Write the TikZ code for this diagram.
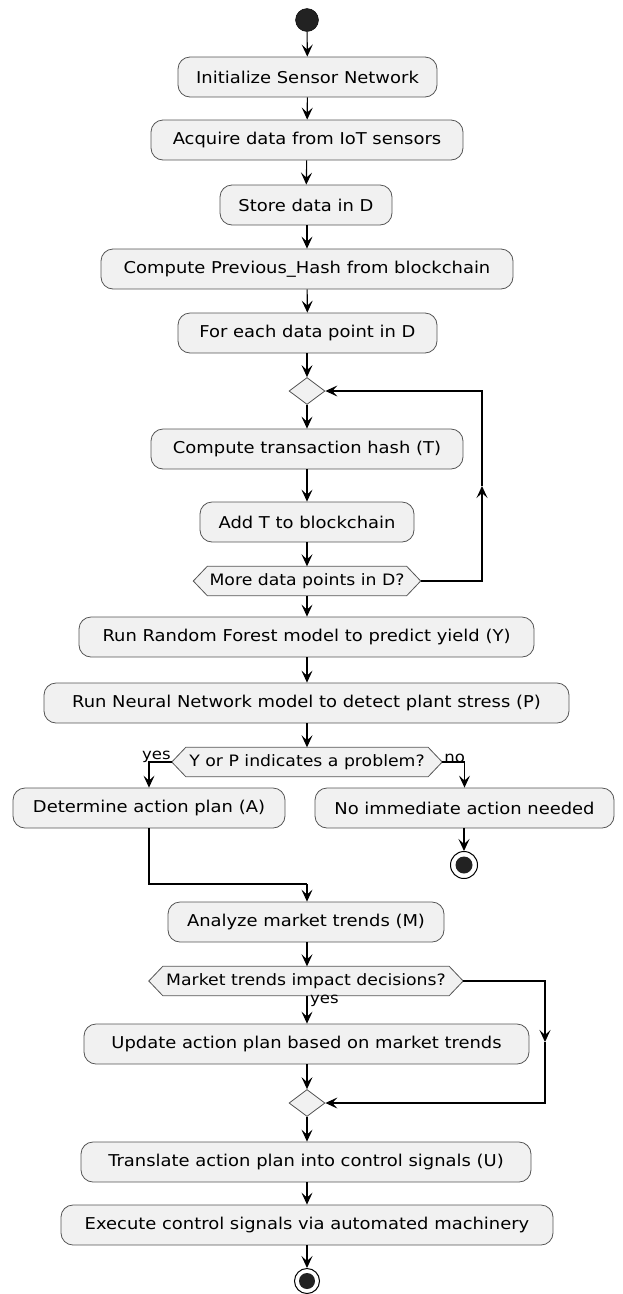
\documentclass[tikz,border=0pt]{standalone}
\usepackage{fontspec}
\setmainfont{DejaVu Sans}[FakeStretch=1.1]
\usetikzlibrary{arrows.meta,shapes.geometric,backgrounds,calc}
\definecolor{boxfill}{HTML}{F1F1F1}
\definecolor{boxline}{HTML}{555555}
\definecolor{dotfill}{HTML}{222222}
\tikzset{
  act/.style={draw=boxline, line width=0.8pt, fill=boxfill, rounded corners=12pt,
    minimum height=40pt, inner sep=0pt, font=\fontsize{16.3}{18}\selectfont},
  hexb/.style={minimum height=29pt, inner sep=0pt, font=\fontsize{15.7}{17}\selectfont},
  hexline/.style={draw=boxline, line width=0.8pt, fill=boxfill},
  merge/.style={diamond, draw=boxline, line width=0.8pt, fill=boxfill, minimum width=36pt, minimum height=27pt, inner sep=0pt},
  arr/.style={line width=1.1pt, -{Stealth[length=12pt,width=11pt,inset=5pt]}},
  ln/.style={line width=1.1pt},
  lbl/.style={font=\fontsize{15}{16}\selectfont, inner sep=0pt},
}
\newcommand{\hexdraw}[1]{%
  \begin{scope}[on background layer]
  \path[hexline] (#1.west) -- ([xshift=14pt]#1.north west) -- ([xshift=-14pt]#1.north east) -- (#1.east) -- ([xshift=-14pt]#1.south east) -- ([xshift=14pt]#1.south west) -- cycle;
  \end{scope}}
\begin{document}
\begin{tikzpicture}[x=1pt,y=-1pt]
\useasboundingbox (0,0) rectangle (622,1294);
\node[circle, fill=dotfill, draw=black, minimum size=23pt, inner sep=0pt] (start) at (307,20) {};
\node[act, minimum width=259pt] (b1) at (307.5,77) {Initialize Sensor Network};
\node[act, minimum width=312pt] (b2) at (307,140) {Acquire data from IoT sensors};
\node[act, minimum width=172pt] (b3) at (306,205) {Store data in D};
\node[act, minimum width=412pt] (b4) at (307,269) {Compute Previous\_Hash from blockchain};
\node[act, minimum width=259pt] (b5) at (307.5,333) {For each data point in D};
\node[merge] (d1) at (307,391) {};
\node[act, minimum width=312pt] (b6) at (307,449) {Compute transaction hash (T)};
\node[act, minimum width=214pt] (b7) at (307,522) {Add T to blockchain};
\node[hexb, minimum width=227pt] (h1) at (307,581) {More data points in D?};
\hexdraw{h1}
\node[act, minimum width=455pt] (b8) at (306.5,637) {Run Random Forest model to predict yield (Y)};
\node[act, minimum width=525pt] (b9) at (306.5,703) {Run Neural Network model to detect plant stress (P)};
\node[hexb, minimum width=270pt] (h2) at (307,762) {Y or P indicates a problem?};
\hexdraw{h2}
\node[act, minimum width=272pt] (bA) at (149,808) {Determine action plan (A)};
\node[act, minimum width=299pt] (bN) at (464.5,808) {No immediate action needed};
\node[circle, draw=black, line width=1pt, fill=white, minimum size=27pt, inner sep=0pt] (end1) at (464,865) {};
\fill[dotfill] (end1.center) circle (8.5pt);
\node[act, minimum width=276pt] (b10) at (306,922) {Analyze market trends (M)};
\node[hexb, minimum width=314pt] (h3) at (306,981) {Market trends impact decisions?};
\hexdraw{h3}
\node[act, minimum width=445pt] (b11) at (306.5,1044) {Update action plan based on market trends};
\node[merge] (d2) at (307,1103) {};
\node[act, minimum width=450pt] (b12) at (306,1162) {Translate action plan into control signals (U)};
\node[act, minimum width=492pt] (b13) at (307,1225) {Execute control signals via automated machinery};
\node[circle, draw=black, line width=1pt, fill=white, minimum size=25pt, inner sep=0pt] (end2) at (307,1281) {};
\fill[dotfill] (end2.center) circle (8pt);
% connectors
\draw[arr] (start) -- (b1);
\draw[arr] (b1) -- (b2);
\draw[arr] (b2) -- (b3);
\draw[arr] (b3.south -| b4.north) -- (b4.north);
\draw[arr] (b4) -- (b5);
\draw[arr] (b5.south -| d1.north) -- (d1);
\draw[arr] (d1) -- (b6.north -| d1.south);
\draw[arr] (b6.south -| d1.south) -- (b7.north -| d1.south);
\draw[arr] (b7.south -| d1.south) -- (h1.north -| d1.south);
\coordinate (l1) at (482,581);
\coordinate (l2) at (482,486);
\coordinate (l3) at (482,391);
\draw[arr] (h1.east) -- (l1) -- (l2);
\draw[arr] (l2) -- (l3) -- (d1.east);
\draw[arr] (h1.south -| d1.south) -- (b8.north -| d1.south);
\draw[arr] (b8.south -| d1.south) -- (b9.north -| d1.south);
\draw[arr] (b9.south -| d1.south) -- (h2.north -| d1.south);
\draw[arr] (h2.west) -| (bA.north);
\draw[arr] (h2.east) -| (bN.north);
\node[lbl, anchor=south east] (yes1) at ([xshift=-1pt,yshift=-1pt]h2.west) {yes};
\node[lbl, anchor=south west] (no1) at ([xshift=2pt,yshift=-1pt]h2.east) {no};
\draw[arr] (bN.south -| end1.north) -- (end1);
\coordinate (j1) at (307,884);
\draw[ln] (bA.south) -- (bA.south |- j1) -- (j1);
\draw[arr] (j1) -- (b10.north -| j1);
\draw[arr] (b10.south -| d1.south) -- (h3.north -| d1.south);
\draw[arr] (h3.south -| d1.south) -- (b11.north -| d1.south);
\node[lbl, anchor=north west] (yes2) at ([xshift=3pt,yshift=1pt]h3.south -| d1.south) {yes};
\coordinate (r1) at (545,981);
\coordinate (r2) at (545,1042);
\coordinate (r3) at (545,1103);
\draw[arr] (h3.east) -- (r1) -- (r2);
\draw[arr] (r2) -- (r3) -- (d2.east);
\draw[arr] (b11.south -| d2.north) -- (d2);
\draw[arr] (d2) -- (b12.north -| d2.south);
\draw[arr] (b12.south -| d2.south) -- (b13.north -| d2.south);
\draw[arr] (b13.south -| end2.north) -- (end2);
\end{tikzpicture}
\end{document}
